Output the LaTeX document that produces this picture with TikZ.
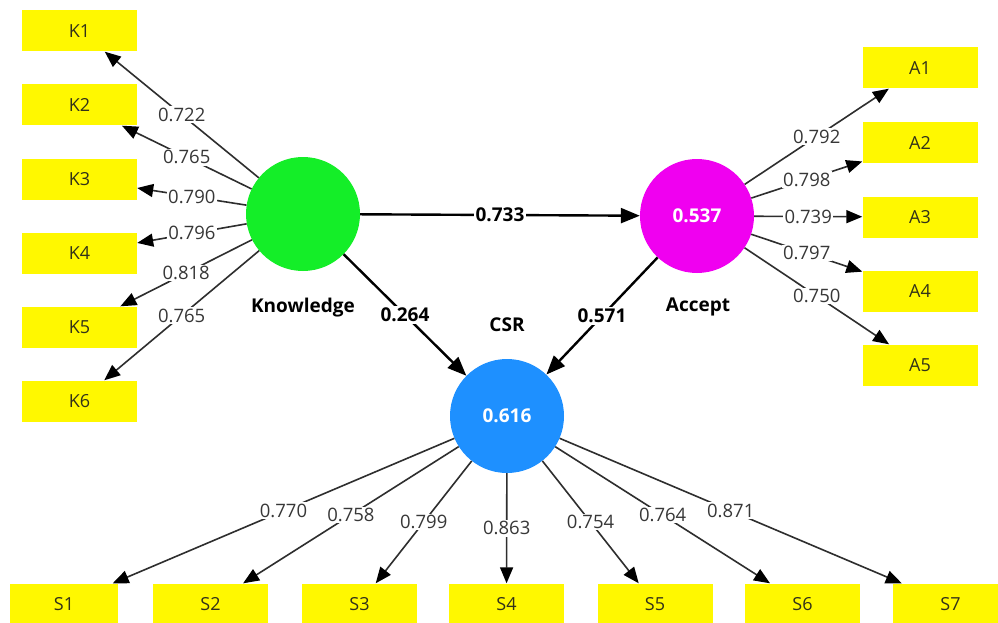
\documentclass[tikz,border=0pt]{standalone}
\usepackage{fontspec}
\setmainfont{Open Sans}
\usetikzlibrary{arrows.meta}
\definecolor{kgreen}{RGB}{20,238,40}
\definecolor{amag}{RGB}{240,0,240}
\definecolor{cblue}{RGB}{30,144,255}
\definecolor{ybox}{RGB}{255,248,0}
\definecolor{numgray}{RGB}{55,55,55}
\definecolor{boxtxt}{RGB}{50,50,25}
\begin{document}
\begin{tikzpicture}[x=1pt,y=-1pt,
  lv/.style={circle, minimum size=114pt, inner sep=0pt, text=white, font=\bfseries\fontsize{19}{22}\selectfont},
  ind/.style={rectangle, fill=ybox, minimum width=115pt, minimum height=41pt, inner sep=0pt, font=\fontsize{18}{20}\selectfont, text=boxtxt},
  outer/.style={draw=black!82, line width=1.6pt, -{Triangle[length=16pt,width=13pt,fill=black,color=black]}},
  inner/.style={draw=black, line width=2.4pt, -{Triangle[length=19pt,width=15pt]}},
  lab/.style={fill=white, inner sep=1.5pt, font=\fontsize{18.5}{20}\selectfont, text=numgray},
  blab/.style={fill=white, inner sep=1.5pt, font=\bfseries\fontsize{19}{20}\selectfont, text=black},
  lvname/.style={font=\bfseries\fontsize{19}{22}\selectfont, text=black}
]
\useasboundingbox (0,0) rectangle (998,623);
\fill[white] (0,0) rectangle (998,623);

% latent variables
\node[lv, fill=kgreen] (kn) at (303,214) {};
\node[lv, fill=amag] (ac) at (697,216) {0.537};
\node[lv, fill=cblue] (csr) at (507,416) {0.616};
\node[lvname] (knl) at (303,308) {Knowledge};
\node[lvname] (acl) at (698,307) {Accept};
\node[lvname] (csrl) at (507,325) {CSR};

% K indicators
\node[ind] (K1) at (79.5,31) {K1};
\node[ind] (K2) at (79.5,105) {K2};
\node[ind] (K3) at (79.5,179) {K3};
\node[ind] (K4) at (79.5,253) {K4};
\node[ind] (K5) at (79.5,327) {K5};
\node[ind] (K6) at (79.5,401) {K6};

% A indicators
\node[ind] (A1) at (920,68) {A1};
\node[ind] (A2) at (920,142.5) {A2};
\node[ind] (A3) at (920,217) {A3};
\node[ind] (A4) at (920,291) {A4};
\node[ind] (A5) at (920,365) {A5};

% S indicators
\node[ind, minimum width=108pt] (S1) at (64,604) {S1};
\node[ind] (S2) at (210.5,604) {S2};
\node[ind] (S3) at (359.5,604) {S3};
\node[ind] (S4) at (506.5,604) {S4};
\node[ind] (S5) at (655,604) {S5};
\node[ind] (S6) at (802.5,604) {S6};
\node[ind] (S7) at (950.5,604) {S7};

% outer loadings Knowledge
\draw[outer] (kn) -- node[lab]{0.722} (K1);
\draw[outer] (kn) -- node[lab]{0.765} (K2);
\draw[outer] (kn) -- node[lab]{0.790} (K3);
\draw[outer] (kn) -- node[lab]{0.796} (K4);
\draw[outer] (kn) -- node[lab]{0.818} (K5);
\draw[outer] (kn) -- node[lab]{0.765} (K6);

% outer loadings Accept
\draw[outer] (ac) -- node[lab]{0.792} (A1);
\draw[outer] (ac) -- node[lab]{0.798} (A2);
\draw[outer] (ac) -- node[lab]{0.739} (A3);
\draw[outer] (ac) -- node[lab]{0.797} (A4);
\draw[outer] (ac) -- node[lab]{0.750} (A5);

% outer loadings CSR
\draw[outer] (csr) -- node[lab]{0.770} (S1);
\draw[outer] (csr) -- node[lab]{0.758} (S2);
\draw[outer] (csr) -- node[lab]{0.799} (S3);
\draw[outer] (csr) -- node[lab]{0.863} (S4);
\draw[outer] (csr) -- node[lab]{0.754} (S5);
\draw[outer] (csr) -- node[lab]{0.764} (S6);
\draw[outer] (csr) -- node[lab]{0.871} (S7);

% structural paths
\draw[inner] (kn) -- node[blab]{0.733} (ac);
\draw[inner] (kn) -- node[blab]{0.264} (csr);
\draw[inner] (ac) -- node[blab]{0.571} (csr);
\end{tikzpicture}
\end{document}
